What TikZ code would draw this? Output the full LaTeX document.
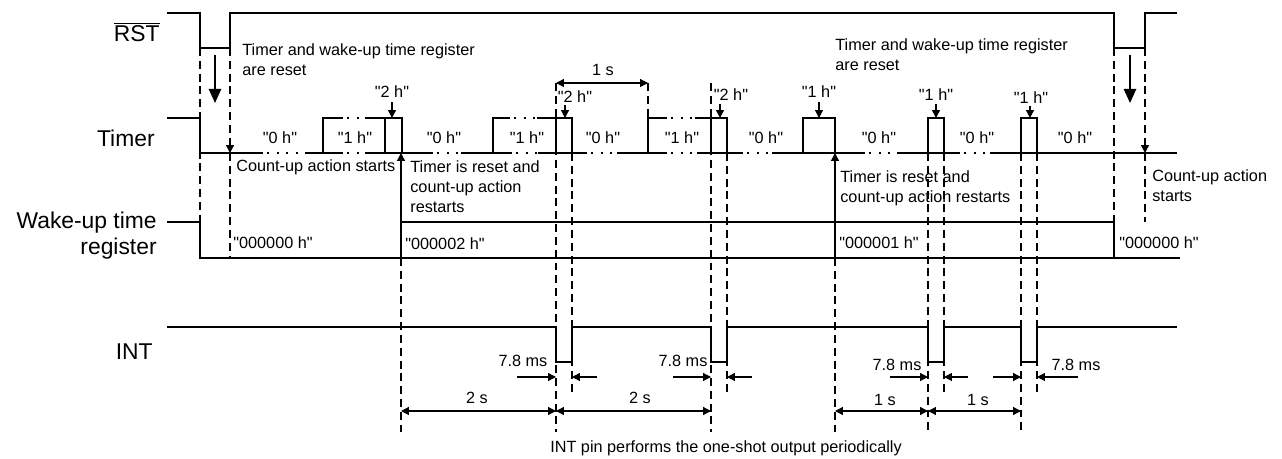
\documentclass[tikz,border=0pt]{standalone}
\usepackage{fontspec}
\setmainfont{Liberation Sans}[Ligatures=TeXOff]
\usetikzlibrary{arrows.meta}

\begin{document}
\begin{tikzpicture}[x=0.02cm, y=-0.02cm,
    sig/.style={line width=1.3pt},
    guide/.style={line width=0.7pt, dash pattern=on 4.5pt off 2.8pt},
    gapdots/.style={line width=1.3pt, dash pattern=on 1.2pt off 4.4pt, dash phase=3.5pt},
    arr/.style={line width=0.7pt, -{Triangle[length=4.5pt,width=4.5pt]}},
    bigarr/.style={line width=1pt, -{Triangle[length=8pt,width=7pt]}},
    dim/.style={line width=0.7pt, {Triangle[length=4.5pt,width=4.5pt]}-{Triangle[length=4.5pt,width=4.5pt]}},
    lbl/.style={font=\fontsize{9.25pt}{11.3pt}\selectfont, inner sep=0pt},
    signame/.style={font=\fontsize{13pt}{14.7pt}\selectfont, inner sep=0pt, anchor=east, align=right}]
    \useasboundingbox (0,0) rectangle (1282,459);

    % signal names
    \node[signame] (rst) at (160,32) {$\overline{\mbox{RST}}$};
    \node[signame] (timer) at (155,138) {Timer};
    \node[signame] (wake) at (157,236) {Wake-up time\\register};
    \node[signame] (int) at (153,352) {INT};

    % RST
    \draw[sig] (167,13) -- (200,13) -- (200,48) -- (230,48) -- (230,13) -- (1114,13) -- (1114,48) -- (1145,48) -- (1145,13) -- (1177,13);

    % Timer
    \draw[sig] (167,118) -- (200,118) -- (200,153);
    \foreach \a/\b in {200/263, 305/343, 365/433, 461/512, 538/587, 617/667, 697/743, 772/865, 897/960, 990/1177}
        \draw[sig] (\a,153) -- (\b,153);
    \foreach \a/\b in {263/305, 343/365, 433/461, 512/538, 587/617, 667/697, 743/772, 865/897, 960/990}
        \draw[gapdots] (\a,153) -- (\b,153);
    \foreach \a/\b in {343/365, 510/537, 667/695}
        \draw[gapdots] (\a,118) -- (\b,118);
    \draw[sig] (323,153) -- (323,118) -- (343,118) (365,118) -- (402,118) -- (402,153) (385,118) -- (385,153);
    \draw[sig] (493,153) -- (493,118) -- (510,118) (537,118) -- (572,118) -- (572,153) (556,118) -- (556,153);
    \draw[sig] (648,153) -- (648,118) -- (667,118) (695,118) -- (727,118) -- (727,153) (711,118) -- (711,153);
    \draw[sig] (803,153) -- (803,118) -- (835,118) -- (835,153);
    \draw[sig] (928,153) -- (928,118) -- (944,118) -- (944,153);
    \draw[sig] (1021,153) -- (1021,118) -- (1037,118) -- (1037,153);

    \foreach \x in {280, 444, 603, 766, 879, 977, 1075}
        \node[lbl] at (\x,138) {"0 h"};
    \foreach \x in {355, 527, 682}
        \node[lbl] at (\x,138) {"1 h"};

    % count values pointed at
    \node[lbl] (h2a) at (392,92) {"2 h"};
    \node[lbl] (h2b) at (575,97) {"2 h"};
    \node[lbl] (h2c) at (731,95) {"2 h"};
    \node[lbl] (h1a) at (819,92) {"1 h"};
    \node[lbl] (h1b) at (936,95) {"1 h"};
    \node[lbl] (h1c) at (1031,98) {"1 h"};
    \draw[arr] (392,102) -- (392,118);
    \draw[arr] (565,105) -- (565,118);
    \draw[arr] (720,104) -- (720,118);
    \draw[arr] (819,102) -- (819,118);
    \draw[arr] (936,104) -- (936,118);
    \draw[arr] (1030,106) -- (1030,118);

    % Wake-up time register
    \draw[sig] (167,222) -- (200,222) -- (200,258) -- (1180,258);
    \draw[sig] (401,258) -- (401,222) -- (1114,222) -- (1114,258) (835,222) -- (835,258);
    \node[lbl, anchor=west] (w0a) at (233,243) {"000000 h"};
    \node[lbl, anchor=west] (w2) at (405,244) {"000002 h"};
    \node[lbl, anchor=west] (w1) at (839,243) {"000001 h"};
    \node[lbl, anchor=west] (w0b) at (1119,243) {"000000 h"};

    % INT
    \draw[sig] (167,327) -- (556,327) -- (556,362) -- (572,362) -- (572,327) -- (711,327) -- (711,362) -- (727,362) -- (727,327)
        -- (928,327) -- (928,362) -- (944,362) -- (944,327) -- (1021,327) -- (1021,362) -- (1037,362) -- (1037,327) -- (1177,327);

    % guide lines
    \foreach \x/\a/\b in {200/48/222, 230/153/258, 401/258/432, 556/83/432, 572/153/392, 648/83/118, 711/83/432, 727/153/392,
                          835/258/432, 928/153/432, 944/153/392, 1021/153/432, 1037/153/392, 1114/48/222, 1145/153/222}
        \draw[guide] (\x,\a) -- (\x,\b);
    \draw[guide, arr] (230,48) -- (230,153);
    \draw[guide, arr] (1145,48) -- (1145,153);

    % reset arrows
    \draw[bigarr] (215,55) -- (215,103);
    \draw[bigarr] (1130,55) -- (1130,103);
    \draw[arr] (401,222) -- (401,153);
    \draw[arr] (835,258) -- (835,153);

    \node[lbl, anchor=west, align=left] (rsttxt1) at (242,60) {Timer and wake-up time register\\are reset};
    \node[lbl, anchor=west, align=left] (rsttxt2) at (835,55) {Timer and wake-up time register\\are reset};
    \node[lbl, anchor=west] (cnt1) at (236,167) {Count-up action starts};
    \node[lbl, anchor=west, align=left] (restart1) at (410,187) {Timer is reset and\\count-up action\\restarts};
    \node[lbl, anchor=west, align=left] (restart2) at (840,188) {Timer is reset and\\count-up action restarts};
    \node[lbl, anchor=west, align=left] (cnt2) at (1152,186) {Count-up action\\starts};

    % 1 s between count-ups
    \draw[dim] (556,83) -- (648,83);
    \node[lbl] (onesec) at (603,70) {1 s};

    % pulse widths
    \foreach \a/\b/\c/\d in {517/556/597/572, 673/711/752/727, 890/928/968/944, 993/1021/1078/1037} {
        \draw[arr] (\a,377) -- (\b,377);
        \draw[arr] (\c,377) -- (\d,377);
    }
    \node[lbl] (pw1) at (523,361) {7.8 ms};
    \node[lbl] (pw2) at (683,361) {7.8 ms};
    \node[lbl] (pw3) at (897,365) {7.8 ms};
    \node[lbl] (pw4) at (1076,365) {7.8 ms};

    % periods
    \draw[dim] (401,411) -- (556,411);
    \draw[dim] (556,411) -- (711,411);
    \draw[dim] (835,411) -- (928,411);
    \draw[dim] (928,411) -- (1021,411);
    \node[lbl] (p1) at (477,398) {2 s};
    \node[lbl] (p2) at (640,398) {2 s};
    \node[lbl] (p3) at (885,400) {1 s};
    \node[lbl] (p4) at (978,400) {1 s};

    \node[lbl] (note) at (726,448) {INT pin performs the one-shot output periodically};
\end{tikzpicture}
\end{document}
